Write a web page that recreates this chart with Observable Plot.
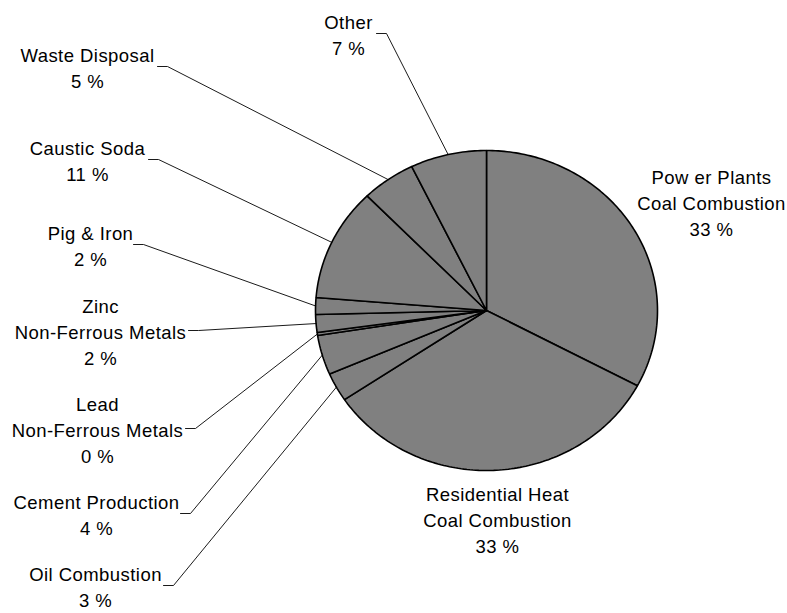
<!DOCTYPE html>
<html>
<head>
<meta charset="utf-8">
<script src="https://cdn.jsdelivr.net/npm/d3@7"></script>
<script src="https://cdn.jsdelivr.net/npm/@observablehq/plot@0.6"></script>
<style>
  html, body { margin: 0; padding: 0; background: #fff; }
  #chart svg { display: block; background: #fff; }
  #chart svg text { letter-spacing: 0.45px; }
</style>
</head>
<body>
<div id="chart"></div>
<script>
// ---- data (clockwise from 12 o'clock) ----
const categories = [
  "Pow er Plants\nCoal Combustion",
  "Residential Heat\nCoal Combustion",
  "Oil Combustion",
  "Cement Production",
  "Lead\nNon-Ferrous Metals",
  "Zinc\nNon-Ferrous Metals",
  "Pig & Iron",
  "Caustic Soda",
  "Waste Disposal",
  "Other"
];
const shares = [32.8, 32.8, 2.9, 4.0, 0.3, 1.8, 1.7, 11.4, 5.1, 7.2];

// ---- layout (pixels) ----
const W = 787, H = 613;
const CX = 486, CY = 310, RX = 171, RY = 160;
// label block centres
const labelX = [711, 497, 95, 96, 97, 100, 90, 87, 87, 348];
const labelY = [201, 518, 585, 513, 428, 330, 244, 159, 66, 33];
// leader start (null = no leader) and elbow length
const leaderX = [null, null, 163, 180, 185, 188, 133, 148, 157, 376];
const ELBOW = 10;

const total = d3.sum(shares);
const slices = [];
let acc = 0;
shares.forEach((v, i) => {
  const a0 = acc / total * 2 * Math.PI;
  acc += v;
  const a1 = acc / total * 2 * Math.PI;
  slices.push({name: categories[i], value: v, a0, a1, mid: (a0 + a1) / 2});
});
const pt = (a) => ({x: CX + RX * Math.sin(a), y: CY - RY * Math.cos(a)});

// slice polygons
const slicePts = [];
slices.forEach((s, i) => {
  slicePts.push({k: i, x: CX, y: CY});
  const n = Math.max(2, Math.ceil((s.a1 - s.a0) / (Math.PI / 180)));
  for (let j = 0; j <= n; j++) {
    const p = pt(s.a0 + (s.a1 - s.a0) * j / n);
    slicePts.push({k: i, x: p.x, y: p.y});
  }
  slicePts.push({k: i, x: CX, y: CY});
});

// leaders
const leaderPts = [];
slices.forEach((s, i) => {
  if (leaderX[i] == null) return;
  const e = pt(s.mid);
  leaderPts.push({k: i, x: leaderX[i], y: labelY[i]});
  leaderPts.push({k: i, x: leaderX[i] + ELBOW, y: labelY[i]});
  leaderPts.push({k: i, x: e.x, y: e.y});
});

const labels = slices.map((s, i) => ({
  text: `${s.name}\n${Math.round(s.value)} %`,
  x: labelX[i], y: labelY[i]
}));

const chart = Plot.plot({
  width: W, height: H,
  margin: 0,
  style: {fontFamily: "'Liberation Sans', Arial, sans-serif", background: "#fff"},
  x: {domain: [0, W], range: [0, W], axis: null},
  y: {domain: [0, H], range: [0, H], axis: null},
  marks: [
    Plot.line(slicePts, {x: "x", y: "y", z: "k", fill: "#808080", stroke: "#000", strokeWidth: 1.6, strokeLinejoin: "miter", curve: "linear"}),
    Plot.line(leaderPts, {x: "x", y: "y", z: "k", stroke: "#000", strokeWidth: 0.9, curve: "linear"}),
    Plot.text(labels, {x: "x", y: "y", text: "text", fontSize: 18.5, lineHeight: 1.41, textAnchor: "middle", fill: "#000"})
  ]
});
document.getElementById("chart").appendChild(chart);
</script>
</body>
</html>
